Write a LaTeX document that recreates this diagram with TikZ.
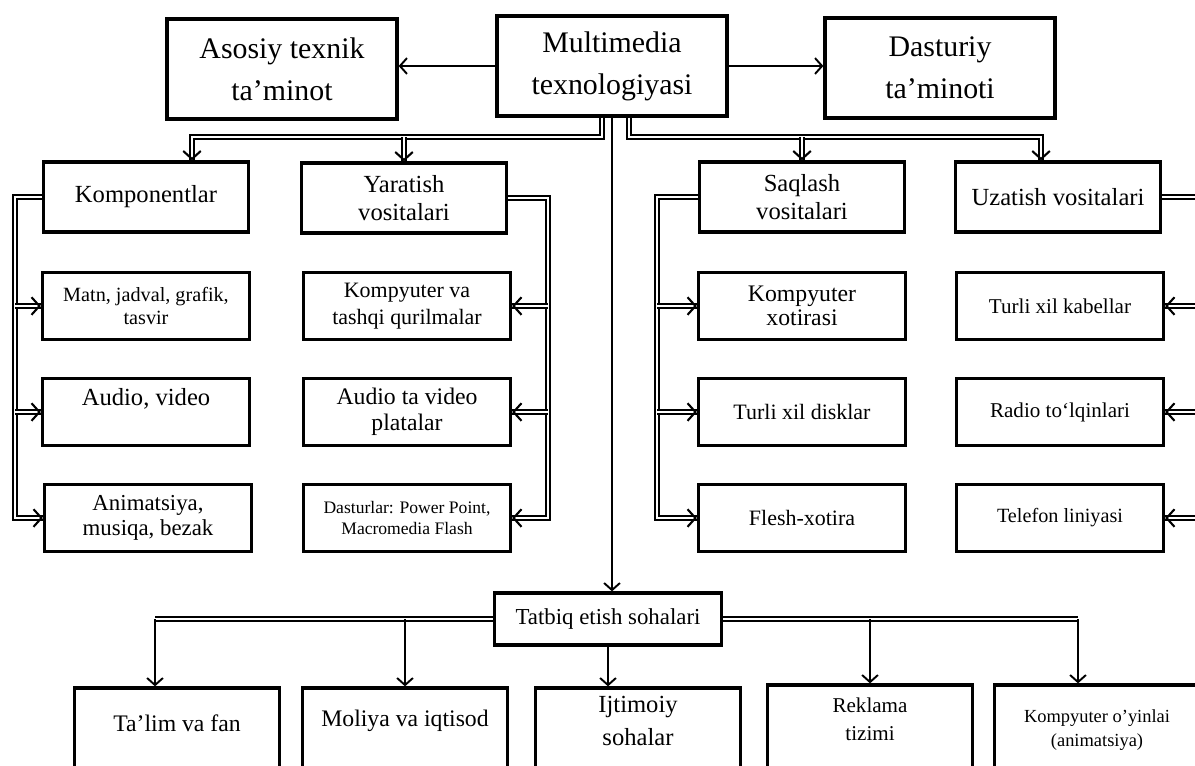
\documentclass[tikz,border=0pt]{standalone}
\usepackage{fontspec}
\setmainfont{Liberation Serif}
\usetikzlibrary{arrows.meta,decorations.markings}

% text lifted inside a box that runs past the page edge
\newcommand\up[2]{\raisebox{#1}[0pt][0pt]{\begin{tabular}{@{}c@{}}#2\end{tabular}}}

\tikzset{
  box/.style={draw, line width=1.9pt, align=center, inner sep=2pt},
  headbox/.style={box, minimum width=4.6cm, minimum height=2cm, font=\fontsize{17}{24}\selectfont},
  groupbox/.style={box, minimum width=4.1cm, minimum height=1.4cm, font=\fontsize{14}{15.5}\selectfont},
  itembox/.style={box, minimum width=4.14cm, minimum height=1.34cm, font=\fontsize{12.5}{15}\selectfont},
  fieldbox/.style={box, minimum width=4.1cm, minimum height=2.4cm, font=\fontsize{13.5}{19}\selectfont},
  link/.style={line width=1.1pt, -{Straight Barb[length=4pt,width=9pt]}},
  dline/.style={double, double distance=0.8pt, line width=1.1pt},
  darrow/.style={dline, postaction={decorate, decoration={markings,
    mark=at position 1 with {\arrow{Straight Barb[length=4.5pt,width=10pt,line width=1.2pt]}}}}},
}

\begin{document}
\begin{tikzpicture}[x=0.02cm,y=-0.02cm]
\useasboundingbox (0,0) rectangle (1195,765);
% top row
\node[headbox] (asosiy) at (282,69) {Asosiy texnik\\ta’minot};
\node[headbox] (multi) at (612,66) {Multimedia\\texnologiyasi};
\node[headbox] (dasturiy) at (940,68) {Dasturiy\\ta’minoti};
% groups
\node[groupbox] (komp) at (146,197) {Komponentlar};
\node[groupbox] (yarat) at (404,198) {Yaratish\\vositalari};
\node[groupbox] (saqlash) at (802,197) {Saqlash\\vositalari};
\node[groupbox] (uzatish) at (1058,197) {Uzatish vositalari};
% komponentlar
\node[itembox, font=\fontsize{11.5}{13.5}\selectfont] (matn) at (146,306) {Matn, jadval, grafik,\\tasvir};
\node[itembox, font=\fontsize{14}{16}\selectfont] (audio) at (146,412) {\up{0.12cm}{Audio, video}};
\node[itembox, font=\fontsize{13}{14}\selectfont] (anim) at (148,518) {Animatsiya,\\musiqa, bezak};
% yaratish vositalari
\node[itembox] (komptq) at (407,306) {Kompyuter va\\tashqi qurilmalar};
\node[itembox, font=\fontsize{13.5}{15}\selectfont] (plata) at (407,412) {Audio ta video\\platalar};
\node[itembox, font=\fontsize{10}{11.5}\selectfont] (dastur) at (407,518) {Dasturlar: Power Point,\\Macromedia Flash};
% saqlash vositalari
\node[itembox, font=\fontsize{13.5}{14}\selectfont] (xotira) at (802,306) {Kompyuter\\xotirasi};
\node[itembox] (disk) at (802,412) {Turli xil disklar};
\node[itembox] (flesh) at (802,518) {Flesh-xotira};
% uzatish vositalari
\node[itembox, font=\fontsize{12}{14}\selectfont] (kabel) at (1060,306) {Turli xil kabellar};
\node[itembox, font=\fontsize{12}{14}\selectfont] (radio) at (1060,412) {Radio to‘lqinlari};
\node[itembox, font=\fontsize{11.5}{14}\selectfont] (telefon) at (1060,518) {Telefon liniyasi};
% tatbiq
\node[box, minimum width=4.54cm, minimum height=1.04cm, font=\fontsize{13}{15}\selectfont] (tatbiq) at (608,619) {Tatbiq etish sohalari};
\node[fieldbox] (talim) at (177,748) {\up{0.33cm}{Ta’lim va fan}};
\node[fieldbox] (moliya) at (405,748) {\up{0.44cm}{Moliya va iqtisod}};
\node[fieldbox, font=\fontsize{14}{19}\selectfont] (ijtim) at (638,748) {\up{0.39cm}{Ijtimoiy\\sohalar}};
\node[fieldbox, font=\fontsize{12}{16}\selectfont] (reklama) at (870,745) {\up{0.37cm}{Reklama\\tizimi}};
\node[fieldbox, font=\fontsize{10.5}{14}\selectfont] (kompo) at (1097,745) {\up{0.21cm}{Kompyuter o’yinlai\\(animatsiya)}};

% top links
\draw[link] (multi.west) -- (asosiy.east |- multi.west);
\draw[link] (multi.east) -- (dasturiy.west |- multi.east);
\coordinate (lbus) at (192,137);
\coordinate (rbus) at (1041,137);
\draw[darrow] ([shift={(-10,0)}]multi.south) |- (lbus) -- (lbus |- komp.north);
\draw[darrow] (yarat.north |- lbus) -- (yarat.north);
\draw[darrow] ([shift={(17,0)}]multi.south) |- (rbus) -- (rbus |- uzatish.north);
\draw[darrow] (saqlash.north |- rbus) -- (saqlash.north);
\draw[link] (multi.south) -- (multi.south |- tatbiq.north);

% brackets
\coordinate (kleft) at (15,197);
\draw[darrow] (komp.west) -- (kleft) |- (anim.west);
\draw[darrow] (kleft |- matn.west) -- (matn.west);
\draw[darrow] (kleft |- audio.west) -- (audio.west);
\coordinate (yright) at (548,198);
\draw[darrow] (yarat.east) -- (yright) |- (dastur.east);
\draw[darrow] (yright |- komptq.east) -- (komptq.east);
\draw[darrow] (yright |- plata.east) -- (plata.east);
\coordinate (sleft) at (657,197);
\draw[darrow] (saqlash.west) -- (sleft) |- (flesh.west);
\draw[darrow] (sleft |- xotira.west) -- (xotira.west);
\draw[darrow] (sleft |- disk.west) -- (disk.west);
\coordinate (uright) at (1207,197);
\draw[darrow] (uzatish.east) -- (uright) |- (telefon.east);
\draw[darrow] (uright |- kabel.east) -- (kabel.east);
\draw[darrow] (uright |- radio.east) -- (radio.east);

% bottom links
\coordinate (lbot) at (155,619);
\coordinate (rbot) at (1078,619);
\draw[dline] (tatbiq.west) -- (lbot);
\draw[link] (lbot) -- (lbot |- talim.north);
\draw[link] (moliya.north |- lbot) -- (moliya.north);
\draw[link] (tatbiq.south) -- (tatbiq.south |- ijtim.north);
\draw[dline] (tatbiq.east) -- (rbot);
\draw[link] (rbot) -- (rbot |- kompo.north);
\draw[link] (reklama.north |- rbot) -- (reklama.north);
\end{tikzpicture}
\end{document}
